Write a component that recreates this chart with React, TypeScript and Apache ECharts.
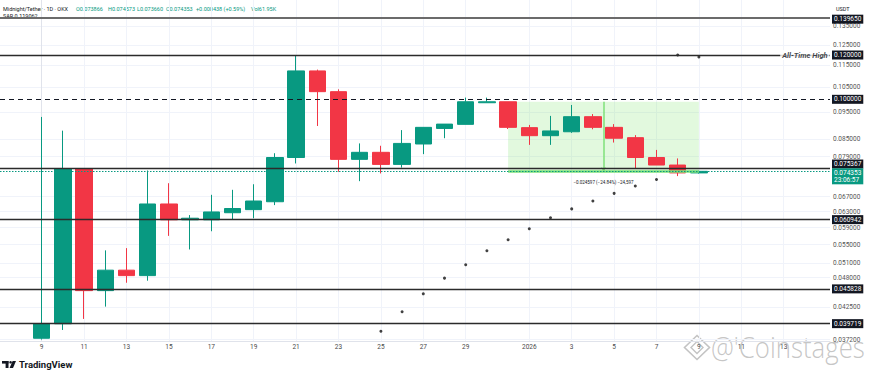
import React, { useEffect, useRef } from "react";
import * as echarts from "echarts";

// ---- data ----
const dates = [
  "2025-12-09", "2025-12-10", "2025-12-11", "2025-12-12", "2025-12-13", "2025-12-14", "2025-12-15", "2025-12-16",
  "2025-12-17", "2025-12-18", "2025-12-19", "2025-12-20", "2025-12-21", "2025-12-22", "2025-12-23", "2025-12-24",
  "2025-12-25", "2025-12-26", "2025-12-27", "2025-12-28", "2025-12-29", "2025-12-30", "2025-12-31", "2026-01-01",
  "2026-01-02", "2026-01-03", "2026-01-04", "2026-01-05", "2026-01-06", "2026-01-07", "2026-01-08", "2026-01-09",
];
const opens = [
  0.0374, 0.0397, 0.0751, 0.0455, 0.0495, 0.0484, 0.065, 0.0609,
  0.0609, 0.0627, 0.0635, 0.0656, 0.0787, 0.1124, 0.1032, 0.0781,
  0.0804, 0.0765, 0.0832, 0.0887, 0.0902, 0.0986, 0.099, 0.089,
  0.0861, 0.0875, 0.0931, 0.0891, 0.0854, 0.0787, 0.0763, 0.073866,
];
const closes = [
  0.0397, 0.0751, 0.0455, 0.0495, 0.0484, 0.065, 0.0609, 0.0613,
  0.0629, 0.0638, 0.0658, 0.0787, 0.1124, 0.1032, 0.0781, 0.0804,
  0.0765, 0.0834, 0.0891, 0.0903, 0.099, 0.099, 0.0891, 0.0861,
  0.0878, 0.0931, 0.0891, 0.0852, 0.0787, 0.0763, 0.073866, 0.074353,
];
const lows = [
  0.0372, 0.0387, 0.0405, 0.0426, 0.047, 0.0474, 0.057, 0.0539,
  0.0581, 0.0609, 0.0613, 0.0647, 0.0768, 0.0896, 0.0742, 0.0714,
  0.0737, 0.0755, 0.0798, 0.0852, 0.0902, 0.0986, 0.0885, 0.0829,
  0.0829, 0.0871, 0.0884, 0.0837, 0.0751, 0.0763, 0.0729, 0.07366,
];
const highs = [
  0.093, 0.0879, 0.0751, 0.0537, 0.0542, 0.0746, 0.0708, 0.0621,
  0.0675, 0.0689, 0.0705, 0.0801, 0.12, 0.113, 0.1042, 0.0834,
  0.0826, 0.0881, 0.0891, 0.0903, 0.1007, 0.1007, 0.099, 0.09,
  0.0934, 0.0977, 0.0941, 0.0903, 0.0863, 0.0812, 0.0784, 0.074573,
];
const sar = [
  null, null, null, null, null, null, null, null,
  null, null, null, null, null, null, null, null,
  0.0385, 0.0417, 0.0449, 0.0479, 0.0506, 0.0536, 0.0561, 0.0587,
  0.0614, 0.0637, 0.0658, 0.0679, 0.07, 0.0719, 0.12, 0.119062,
];
const xTickIdx = [0, 2, 4, 6, 8, 10, 12, 14, 16, 18, 20, 23, 25, 27, 29, 31, 33, 35];
const xTickLabels = ["9", "11", "13", "15", "17", "19", "21", "23", "25", "27", "29", "2026", "3", "5", "7", "9", "11", "13"];
const yTicks = [0.0372, 0.0425, 0.048, 0.051, 0.055, 0.059, 0.063, 0.067, 0.079, 0.085, 0.095, 0.105, 0.115, 0.125, 0.135];
const solidLevels = [0.13965, 0.12, 0.075367, 0.060942, 0.045828, 0.039719];
const dashedLevel = 0.1;
const lastPrice = 0.074353;
const athLevel = 0.12;
const rangeTop = 0.099;
const rangeStartIdx = 22;
const rangeEndIdx = 31;
const rangeText = "−0.024597 (−24.84%) −24,597";

const UP = "#089981";
const DOWN = "#F23645";
const FONT = "Roboto, 'Noto Sans', sans-serif";
const X_MIN = -41.7 / 21.2;
const X_MAX = (830 - 41.7) / 21.2;

export default function App() {
  const ref = useRef<HTMLDivElement>(null);
  useEffect(() => {
    if (!ref.current) return;
    const chart = echarts.init(ref.current, undefined, { renderer: "svg" });
    const levelLabel = (text: string, offsetY: number, bg = "#131722") => ({
      show: true,
      position: "end",
      distance: 2,
      formatter: text,
      backgroundColor: bg,
      color: "#fff",
      fontSize: 6.5,
      fontFamily: FONT,
      padding: [1, 2, 1, 2],
      offset: [0, offsetY],
    });
    const hLine = (v: number, lineStyle: any, label: any) => [
      { coord: [X_MIN, v], lineStyle, label },
      { coord: [X_MAX, v] },
    ];
    const levelLines = solidLevels.map((v, i) =>
      hLine(
        v,
        { color: i === 0 ? "#6b6b6b" : "#2b2b2b", width: i === 0 ? 2 : 1.4, type: "solid" },
        levelLabel(v.toFixed(6), v === 0.075367 ? -4 : i === 0 ? 1 : 0)
      )
    );
    const midIdx = (rangeStartIdx + rangeEndIdx) / 2;
    const option: any = {
      animation: false,
      backgroundColor: "#ffffff",
      grid: { left: 0, right: 43, top: 0, bottom: 33 },
      xAxis: {
        type: "value",
        min: X_MIN,
        max: X_MAX,
        axisLine: { show: true, lineStyle: { color: "#e0e3eb" } },
        axisTick: { show: false, customValues: xTickIdx },
        axisLabel: {
          customValues: xTickIdx,
          formatter: (v: number) => xTickLabels[xTickIdx.indexOf(Math.round(v))] ?? "",
          fontSize: 6.5,
          color: "#4a4a4a",
          fontFamily: FONT,
          margin: 2,
        },
        splitLine: { show: true, lineStyle: { color: "#f0f3fa", width: 1 } },
      },
      yAxis: {
        type: "log",
        logBase: 10,
        position: "right",
        min: 0.03698,
        max: 0.1505,
        axisLine: { show: true, lineStyle: { color: "#e0e3eb" } },
        axisTick: { show: false, customValues: yTicks },
        axisLabel: {
          customValues: yTicks,
          formatter: (v: number) => v.toFixed(6),
          fontSize: 6.5,
          color: "#555",
          fontFamily: FONT,
          margin: 3,
        },
        splitLine: { show: true, lineStyle: { color: "#f0f3fa", width: 1 } },
      },
      series: [
        {
          type: "scatter",
          name: "range",
          data: [],
          z: 1,
          markArea: {
            silent: true,
            itemStyle: { color: "rgba(110, 225, 90, 0.2)" },
            data: [[{ coord: [rangeStartIdx, rangeTop] }, { coord: [rangeEndIdx, lastPrice] }]],
          },
          markLine: {
            silent: true,
            symbol: "none",
            data: [
              [
                { coord: [rangeStartIdx, lastPrice], lineStyle: { color: "#7fe07a", width: 2.5, type: "solid" }, label: { show: false } },
                { coord: [rangeEndIdx, lastPrice] },
              ],
              [
                {
                  coord: [midIdx, rangeTop],
                  symbol: "none",
                  lineStyle: { color: "#7fe07a", width: 1.5, type: "solid" },
                  label: {
                    show: true,
                    position: "end",
                    distance: 9,
                    formatter: rangeText,
                    fontSize: 4.5,
                    color: "#131722",
                    fontFamily: FONT,
                  },
                },
                { coord: [midIdx, lastPrice], symbol: "arrow", symbolSize: 4 },
              ],
            ],
          },
        },
        {
          type: "candlestick",
          name: "MIDNIGHT/USDT",
          data: dates.map((_, i) => [i, opens[i], closes[i], lows[i], highs[i]]),
          encode: { x: 0, y: [1, 2, 3, 4] },
          barWidth: 17,
          z: 2,
          itemStyle: { color: UP, color0: DOWN, borderColor: UP, borderColor0: DOWN, borderWidth: 1 },
        },
        {
          type: "scatter",
          name: "levels",
          data: [],
          z: 3,
          markLine: {
            silent: true,
            symbol: "none",
            data: [
              ...levelLines,
              hLine(dashedLevel, { color: "#131722", width: 1.2, type: [5, 4] }, levelLabel(dashedLevel.toFixed(6), 0)),
              hLine(lastPrice, { color: UP, width: 1.2, type: [1.5, 1.5] }, {
                ...levelLabel(lastPrice.toFixed(6) + "\n23:06:57", 5, UP),
                lineHeight: 7,
              }),
            ],
          },
        },
        {
          type: "scatter",
          name: "SAR",
          data: sar.map((v, i) => (v == null ? null : [i, v])).filter((d) => d !== null),
          symbol: "circle",
          symbolSize: 3,
          itemStyle: { color: "#111" },
          z: 4,
        },
        {
          type: "scatter",
          name: "ath",
          data: [[36.0, athLevel]],
          symbolSize: 1,
          itemStyle: { color: "rgba(0,0,0,0)" },
          z: 5,
          label: {
            show: true,
            position: "inside",
            formatter: "All-Time High",
            fontSize: 7.5,
            fontStyle: "italic",
            fontWeight: "bold",
            color: "#131722",
            fontFamily: FONT,
            backgroundColor: "#fff",
            padding: [1, 2, 1, 2],
          },
        },
      ],
      graphic: [
        { type: "text", left: 3, top: 6, style: { text: "Midnight/Tether · 1D · OKX", fontSize: 5.5, fill: "#131722", fontFamily: FONT } },
        { type: "text", left: 76, top: 6, style: { text: "O0.073866", fontSize: 5.5, fill: UP, fontFamily: FONT } },
        { type: "text", left: 108, top: 6, style: { text: "H0.074573", fontSize: 5.5, fill: UP, fontFamily: FONT } },
        { type: "text", left: 137, top: 6, style: { text: "L0.073660", fontSize: 5.5, fill: UP, fontFamily: FONT } },
        { type: "text", left: 166, top: 6, style: { text: "C0.074353", fontSize: 5.5, fill: UP, fontFamily: FONT } },
        { type: "text", left: 196, top: 6, style: { text: "+0.000438 (+0.59%)", fontSize: 5.5, fill: UP, fontFamily: FONT } },
        { type: "text", left: 251, top: 6, style: { text: "Vol61.95K", fontSize: 5.5, fill: UP, fontFamily: FONT } },
        { type: "text", left: 3, top: 13, style: { text: "SAR 0.119062", fontSize: 5.5, fill: "#131722", fontFamily: FONT } },
        { type: "text", left: 836, top: 6, style: { text: "USDT", fontSize: 5.5, fill: "#131722", fontFamily: FONT } },
        // TradingView logo
        {
          type: "group",
          left: 2,
          top: 361,
          children: [
            { type: "rect", shape: { x: 0, y: 0, width: 6.5, height: 2.6 }, style: { fill: "#131722" } },
            { type: "rect", shape: { x: 3.6, y: 0, width: 2.9, height: 7 }, style: { fill: "#131722" } },
            { type: "circle", shape: { cx: 8.6, cy: 1.3, r: 1.3 }, style: { fill: "#131722" } },
            { type: "polygon", shape: { points: [[10.6, 0], [14, 0], [11, 7], [7.6, 7]] }, style: { fill: "#131722" } },
          ],
        },
        { type: "text", left: 19, top: 359, style: { text: "TradingView", fontSize: 9.5, fontWeight: "bold", fill: "#131722", fontFamily: FONT } },
        // watermark
        {
          type: "group",
          left: 682,
          top: 333,
          silent: true,
          children: [
            { type: "polygon", shape: { points: [[12.5, 0], [25, 12], [12.5, 24], [0, 12]] }, style: { fill: "none", stroke: "rgba(170,170,170,0.7)", lineWidth: 1.6 } },
            { type: "polygon", shape: { points: [[12.5, 6], [18.5, 12], [12.5, 18], [6.5, 12]] }, style: { fill: "none", stroke: "rgba(170,170,170,0.7)", lineWidth: 1.4 } },
          ],
        },
        {
          type: "text",
          x: 711,
          y: 331,
          scaleX: 0.86,
          silent: true,
          style: { text: "@'Coinstages", fontSize: 30, fontWeight: 300, fill: "rgba(160,160,160,0.6)", fontFamily: "'Open Sans', sans-serif" },
        },
      ],
    };
    chart.setOption(option);
    return () => chart.dispose();
  }, []);
  return <div ref={ref} style={{ position: "fixed", left: 0, top: 0, width: 873, height: 374, background: "#fff" }} />;
}
